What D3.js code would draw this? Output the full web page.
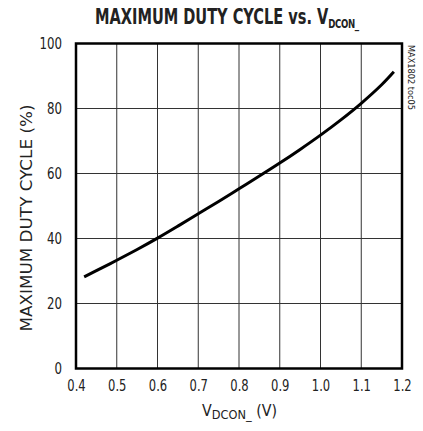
<!DOCTYPE html>
<html>
<head>
<meta charset="utf-8">
<script src="https://cdn.jsdelivr.net/npm/d3@7"></script>
<style>
  body { margin: 0; background: #fff; }
  text { font-family: "DejaVu Sans Condensed", "DejaVu Sans", sans-serif; fill: #222; }
</style>
</head>
<body>
<svg id="chart"></svg>
<script>
const vdcon = [0.42, 0.45, 0.5, 0.55, 0.6, 0.65, 0.7, 0.75, 0.8, 0.85, 0.9, 0.95, 1.0, 1.05, 1.1, 1.15, 1.18];
const duty = [28.2, 30.1, 33.3, 36.6, 40.1, 43.8, 47.6, 51.4, 55.3, 59.2, 63.2, 67.4, 71.8, 76.5, 81.6, 87.3, 91.3];
const xTicks = [0.4, 0.5, 0.6, 0.7, 0.8, 0.9, 1.0, 1.1, 1.2];
const yTicks = [0, 20, 40, 60, 80, 100];

const W = 423, H = 431;
const margin = { top: 43.5, right: 21, bottom: 62.5, left: 76 };
const width = W - margin.left - margin.right;
const height = H - margin.top - margin.bottom;

const svg = d3.select("#chart").attr("width", W).attr("height", H);
const g = svg.append("g").attr("transform", `translate(${margin.left},${margin.top})`);

const x = d3.scaleLinear().domain([0.4, 1.2]).range([0, width]);
const y = d3.scaleLinear().domain([0, 100]).range([height, 0]);

// narrow text: squeeze by char widths
const narrow = (s, digit) => s.split("").reduce((w, c) => w + (c === "." ? digit * 0.45 : digit), 0);

// grid
g.append("g")
  .selectAll("line")
  .data(xTicks.slice(1, -1))
  .join("line")
  .attr("x1", (d) => x(d)).attr("x2", (d) => x(d))
  .attr("y1", 0).attr("y2", height)
  .attr("stroke", "#333").attr("stroke-width", 1);

g.append("g")
  .selectAll("line")
  .data(yTicks.slice(1, -1))
  .join("line")
  .attr("y1", (d) => y(d)).attr("y2", (d) => y(d))
  .attr("x1", 0).attr("x2", width)
  .attr("stroke", "#333").attr("stroke-width", 1);

// axes (labels only)
const xAxis = d3.axisBottom(x).tickValues(xTicks).tickSize(0).tickPadding(12).tickFormat(d3.format(".1f"));
const yAxis = d3.axisLeft(y).tickValues(yTicks).tickSize(0).tickPadding(14);

g.append("g").attr("transform", `translate(0,${height})`).call(xAxis)
  .call((s) => s.select(".domain").remove())
  .selectAll("text")
  .style("font-size", "15px").attr("fill", "#222")
  .attr("textLength", (d) => narrow(d3.format(".1f")(d), 7.5))
  .attr("lengthAdjust", "spacingAndGlyphs");

g.append("g").call(yAxis)
  .call((s) => s.select(".domain").remove())
  .selectAll("text")
  .style("font-size", "15px").attr("fill", "#222")
  .attr("textLength", (d) => narrow(String(d), 7.5))
  .attr("lengthAdjust", "spacingAndGlyphs");

// frame
g.append("rect")
  .attr("width", width).attr("height", height)
  .attr("fill", "none").attr("stroke", "#000").attr("stroke-width", 2.5);

// curve
const line = d3.line().x((d, i) => x(vdcon[i])).y((d) => y(d)).curve(d3.curveCatmullRom);
g.append("path")
  .datum(duty)
  .attr("d", line)
  .attr("fill", "none")
  .attr("stroke", "#000")
  .attr("stroke-width", 3);

// title: one text, squeezed horizontally to fit
const titleG = svg.append("g");
const title = titleG.append("text")
  .attr("x", 0).attr("y", 0)
  .style("font-size", "22px").style("font-weight", "bold").attr("fill", "#000");
title.append("tspan").text("MAXIMUM DUTY CYCLE vs. V");
title.append("tspan").attr("dy", 4).style("font-size", "13px").style("letter-spacing", "-0.5px").text("DCON_");
const tw = title.node().getComputedTextLength();
titleG.attr("transform", `translate(95,24) scale(${264 / tw},1)`);

// x label
const xl = svg.append("g");
const xlab = xl.append("text").style("font-size", "15px");
xlab.append("tspan").text("V");
xlab.append("tspan").attr("dy", 3).style("font-size", "12px").text("DCON_");
xlab.append("tspan").attr("dy", -3).text(" (V)");
const xw = xlab.node().getComputedTextLength();
xl.attr("transform", `translate(202,416) scale(${75 / xw},1)`);

// y label
svg.append("text")
  .attr("transform", `translate(26,218) rotate(-90)`)
  .attr("text-anchor", "middle").attr("dy", "0.35em")
  .attr("textLength", 227).attr("lengthAdjust", "spacingAndGlyphs")
  .style("font-size", "16px")
  .text("MAXIMUM DUTY CYCLE (%)");

// figure id
svg.append("text")
  .attr("transform", `translate(411,45) rotate(90)`)
  .attr("dy", "0.35em")
  .attr("textLength", 65).attr("lengthAdjust", "spacingAndGlyphs")
  .style("font-size", "8.5px")
  .text("MAX1802 toc05");
</script>
</body>
</html>
